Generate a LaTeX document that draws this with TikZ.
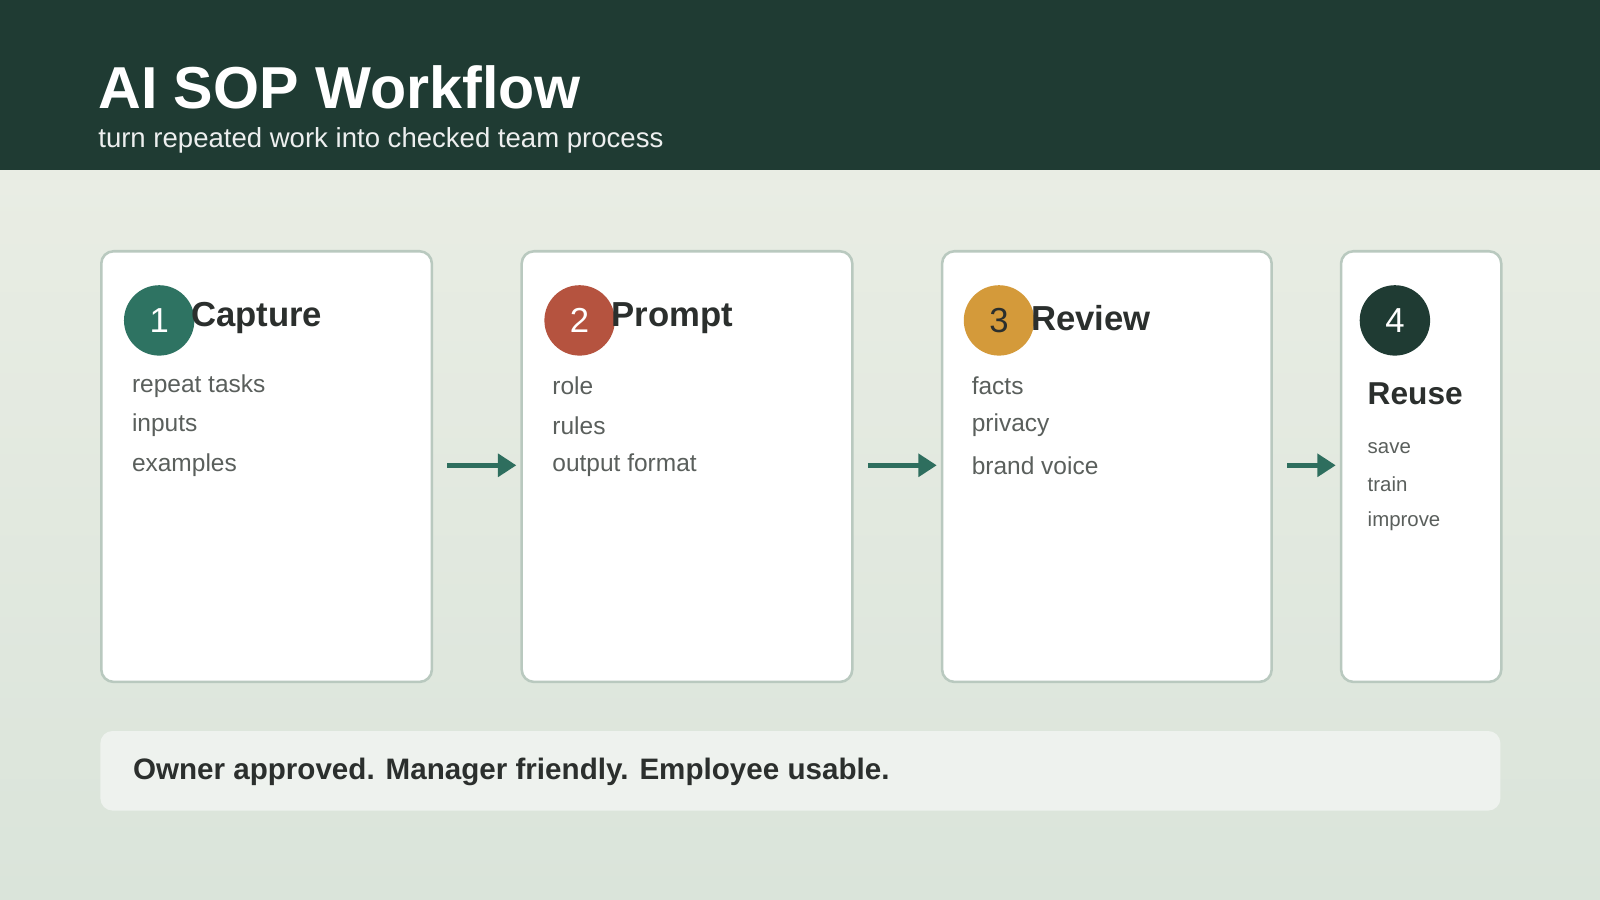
\documentclass[tikz,border=0pt]{standalone}
\usepackage{fontspec}
\setmainfont{Liberation Sans}
\usetikzlibrary{arrows.meta}
\definecolor{headgreen}{HTML}{1F3B33}
\definecolor{bgtop}{HTML}{E9EDE4}
\definecolor{bgbot}{HTML}{DAE4DA}
\definecolor{cardline}{HTML}{B9C9BF}
\definecolor{capgreen}{HTML}{2E7362}
\definecolor{promptred}{HTML}{B5533F}
\definecolor{reviewgold}{HTML}{D49A3A}
\definecolor{arrowteal}{HTML}{2E6E5E}
\definecolor{textdark}{HTML}{2B2F2D}
\definecolor{itemgrey}{HTML}{5A5F5C}
\definecolor{footfill}{HTML}{EEF2EE}
\tikzset{every picture/.style={line width=0.75pt}}
\tikzset{
  card/.style={draw=cardline, line width=2.5pt, fill=white, rounded corners=12pt, anchor=north west, inner sep=0pt},
  badge/.style={circle, minimum size=69pt, inner sep=0pt, text=white, font=\fontsize{34}{34}\selectfont},
  steptitle/.style={anchor=west, inner sep=0pt, text=textdark, font=\fontsize{34}{34}\selectfont\bfseries},
  stepitem/.style={anchor=west, inner sep=0pt, text=itemgrey, font=\fontsize{24}{24}\selectfont},
  flow/.style={draw=arrowteal, line width=5pt, -{Triangle[length=18pt,width=22pt]}, shorten <=14pt, shorten >=4pt}
}
\begin{document}
\begin{tikzpicture}[x=1pt,y=1pt,yscale=-1]
\useasboundingbox (0,0) rectangle (1568,882);
% background and header
\shade[top color=bgtop, bottom color=bgbot] (0,167) rectangle (1568,882);
\fill[headgreen] (0,0) rectangle (1568,167);
\node[anchor=base west, inner sep=0pt, text=white, font=\fontsize{58}{58}\selectfont\bfseries] (title) at (96,106) {AI SOP Workflow};
\node[anchor=base west, inner sep=0pt, text=white!92!headgreen, font=\fontsize{27}{27}\selectfont] (subtitle) at (96,145) {turn repeated work into checked team process};

% cards
\node[card, minimum width=324pt, minimum height=422pt] (capture) at (98,245) {};
\node[card, minimum width=324pt, minimum height=422pt] (prompt) at (510,245) {};
\node[card, minimum width=323pt, minimum height=422pt] (review) at (922,245) {};
\node[card, minimum width=157pt, minimum height=422pt] (reuse) at (1313,245) {};

% badges and titles
\node[badge, fill=capgreen] (b1) at (156,314) {1};
\node[steptitle] (t1) at (187,312) {Capture};
\node[badge, fill=promptred] (b2) at (568,314) {2};
\node[steptitle] (t2) at (599,312) {Prompt};
\node[badge, fill=reviewgold, text=textdark] (b3) at (979,314) {3};
\node[steptitle] (t3) at (1010,312) {Review};
\node[badge, fill=headgreen] (b4) at (1367,314) {4};
\node[steptitle, font=\fontsize{31}{31}\selectfont\bfseries] (t4) at (1340,386) {Reuse};

% items
\foreach \txt [count=\i] in {repeat tasks,inputs,examples}
  \node[stepitem] (c\i) at (129,339+39*\i) {\txt};
\foreach \txt [count=\i] in {role,rules,output format}
  \node[stepitem] (p\i) at (541,339+39*\i) {\txt};
\foreach \txt [count=\i] in {facts,privacy,brand voice}
  \node[stepitem] (r\i) at (952,339+39*\i) {\txt};
\foreach \txt [count=\i] in {save,train,improve}
  \node[stepitem, font=\fontsize{20}{20}\selectfont] (u\i) at (1340,403+36*\i) {\txt};

% arrows
\draw[flow] (capture.east |- c3) -- (prompt.west |- c3);
\draw[flow] (prompt.east |- c3) -- (review.west |- c3);
\draw[flow] (review.east |- c3) -- (reuse.west |- c3);

% footer
\node[fill=footfill, rounded corners=12pt, anchor=north west, minimum width=1372pt, minimum height=78pt, inner sep=0pt] (footer) at (98,716) {};
\node[anchor=west, inner sep=0pt, text=textdark, font=\fontsize{29}{29}\selectfont\bfseries] (motto) at (130,756) {Owner approved. Manager friendly. Employee usable.};
\end{tikzpicture}
\end{document}
